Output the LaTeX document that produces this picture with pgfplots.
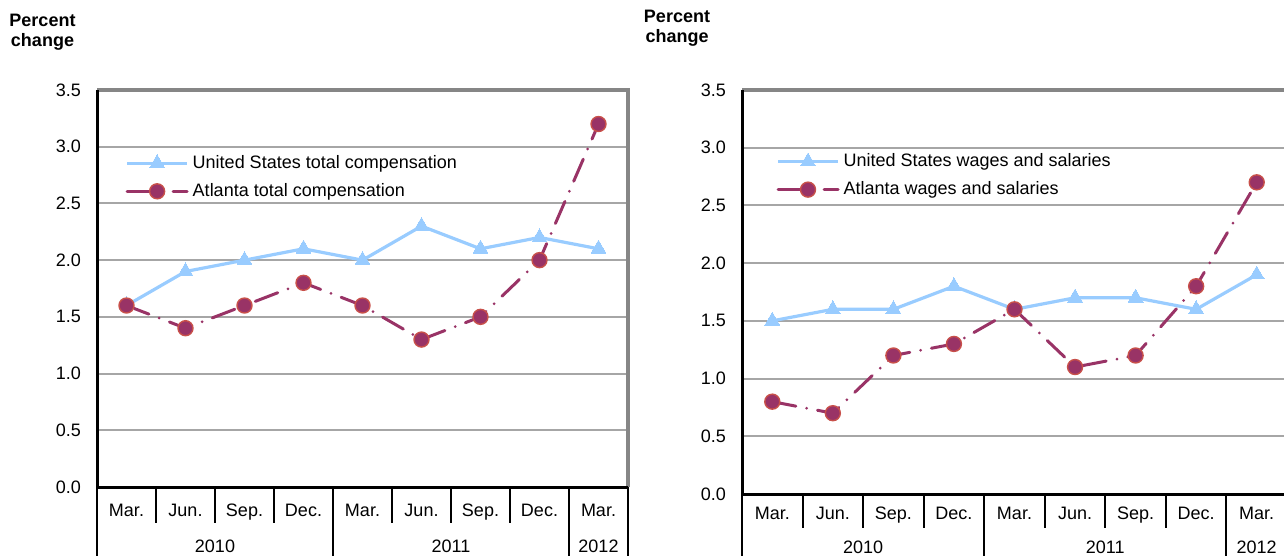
\documentclass[border=0pt]{standalone}
\usepackage{pgfplots}
\pgfplotsset{compat=1.18}
\usepackage{fontspec}
\setmainfont{Liberation Sans}
\definecolor{usblue}{HTML}{99CCFF}
\definecolor{atl}{HTML}{993366}
\definecolor{atledge}{HTML}{C8504A}
\definecolor{gridgray}{HTML}{A6A6A6}
\definecolor{bordergray}{HTML}{868686}

\pgfplotsset{
  panel/.style={
    scale only axis,
    xmin=0, xmax=9, ymin=0, ymax=3.5,
    ytick={0,0.5,1,1.5,2,2.5,3,3.5},
    yticklabels={0.0,0.5,1.0,1.5,2.0,2.5,3.0,3.5},
    yticklabel style={xshift=-4.5pt},
    xtick={0.5,1.5,2.5,3.5,4.5,5.5,6.5,7.5,8.5},
    xticklabels={Mar.,Jun.,Sep.,Dec.,Mar.,Jun.,Sep.,Dec.,Mar.},
    major tick length=0pt,
    ymajorgrids, grid style={gridgray, line width=1pt},
    axis line style={draw=none},
    tick label style={font=\fontsize{9}{10}\selectfont},
    clip=false,
    legend cell align=left,
    legend image code/.code={\draw[mark repeat=2,mark phase=2] plot coordinates {(0pt,0pt) (15pt,0pt) (30pt,0pt)};},
    legend style={anchor=north west, draw=none, fill=none, inner sep=0pt,
      font=\fontsize{9}{10}\selectfont, row sep=5pt, column sep=2pt,
      nodes={inner sep=0pt, text height=7pt, text depth=2pt}},
  },
  usline/.style={usblue, line width=1.6pt, mark=triangle*, mark size=4.3pt, mark options={solid, fill=usblue, draw=usblue, line width=0pt}},
  atline/.style={atl, line width=1.5pt, line cap=round, dash pattern=on 12pt off 5.5pt on 0pt off 5.5pt, mark=*, mark size=3.75pt, mark options={solid, fill=atl, draw=atledge, line width=0.7pt}},
}

\begin{document}
\begin{tikzpicture}
\useasboundingbox (0,0) rectangle (642pt,278pt);
\clip (0,0) rectangle (642pt,278pt);

\node[align=center, font=\bfseries\fontsize{9}{10}\selectfont] at (21.25pt,262pt) {Percent\\change};
\node[align=center, font=\bfseries\fontsize{9}{10}\selectfont] at (338.5pt,264pt) {Percent\\change};

% Left panel
\begin{axis}[panel, at={(48.5pt,34.5pt)}, anchor=south west,
  width=265.5pt, height=198.5pt,
  xticklabel style={anchor=base, yshift=-14.5pt},
  legend style={at={(0.053,0.839)}}]
\addplot[usline] coordinates {(0.5,1.6) (1.5,1.9) (2.5,2.0) (3.5,2.1) (4.5,2.0) (5.5,2.3) (6.5,2.1) (7.5,2.2) (8.5,2.1)};
\addlegendentry{United States total compensation}
\addplot[atline] coordinates {(0.5,1.6) (1.5,1.4) (2.5,1.6) (3.5,1.8) (4.5,1.6) (5.5,1.3) (6.5,1.5) (7.5,2.0) (8.5,3.2)};
\addlegendentry{Atlanta total compensation}
\draw[bordergray, line width=1.75pt] (axis cs:0,3.5) -- (axis cs:9,3.5) -- (axis cs:9,0);
\draw[black, line width=1.5pt] (axis cs:0,3.5) -- (axis cs:0,0) -- (axis cs:9,0);
\pgfplotsinvokeforeach{1,2,3,5,6,7}{\draw[line width=1pt] (axis cs:#1,0) -- ++(0pt,-18pt);}
\pgfplotsinvokeforeach{0,4,8,9}{\draw[line width=1pt] (axis cs:#1,0) -- ++(0pt,-40pt);}
\node[anchor=base, font=\fontsize{9}{10}\selectfont] at ([yshift=-32.5pt]axis cs:2,0) {2010};
\node[anchor=base, font=\fontsize{9}{10}\selectfont] at ([yshift=-32.5pt]axis cs:6,0) {2011};
\node[anchor=base, font=\fontsize{9}{10}\selectfont] at ([yshift=-32.5pt]axis cs:8.5,0) {2012};
\end{axis}

% Right panel
\begin{axis}[panel, at={(371pt,31pt)}, anchor=south west,
  width=272.5pt, height=202pt,
  xticklabel style={anchor=base, yshift=-12.75pt},
  legend style={at={(0.0624,0.846)}}]
\addplot[usline] coordinates {(0.5,1.5) (1.5,1.6) (2.5,1.6) (3.5,1.8) (4.5,1.6) (5.5,1.7) (6.5,1.7) (7.5,1.6) (8.5,1.9)};
\addlegendentry{United States wages and salaries}
\addplot[atline] coordinates {(0.5,0.8) (1.5,0.7) (2.5,1.2) (3.5,1.3) (4.5,1.6) (5.5,1.1) (6.5,1.2) (7.5,1.8) (8.5,2.7)};
\addlegendentry{Atlanta wages and salaries}
\draw[bordergray, line width=1.75pt] (axis cs:0,3.5) -- (axis cs:9,3.5) -- (axis cs:9,0);
\draw[black, line width=1.5pt] (axis cs:0,3.5) -- (axis cs:0,0) -- (axis cs:9,0);
\pgfplotsinvokeforeach{1,2,3,5,6,7}{\draw[line width=1pt] (axis cs:#1,0) -- ++(0pt,-17pt);}
\pgfplotsinvokeforeach{0,4,8,9}{\draw[line width=1pt] (axis cs:#1,0) -- ++(0pt,-40pt);}
\node[anchor=base, font=\fontsize{9}{10}\selectfont] at ([yshift=-29.5pt]axis cs:2,0) {2010};
\node[anchor=base, font=\fontsize{9}{10}\selectfont] at ([yshift=-29.5pt]axis cs:6,0) {2011};
\node[anchor=base, font=\fontsize{9}{10}\selectfont] at ([yshift=-29.5pt]axis cs:8.5,0) {2012};
\end{axis}
\end{tikzpicture}
\end{document}
